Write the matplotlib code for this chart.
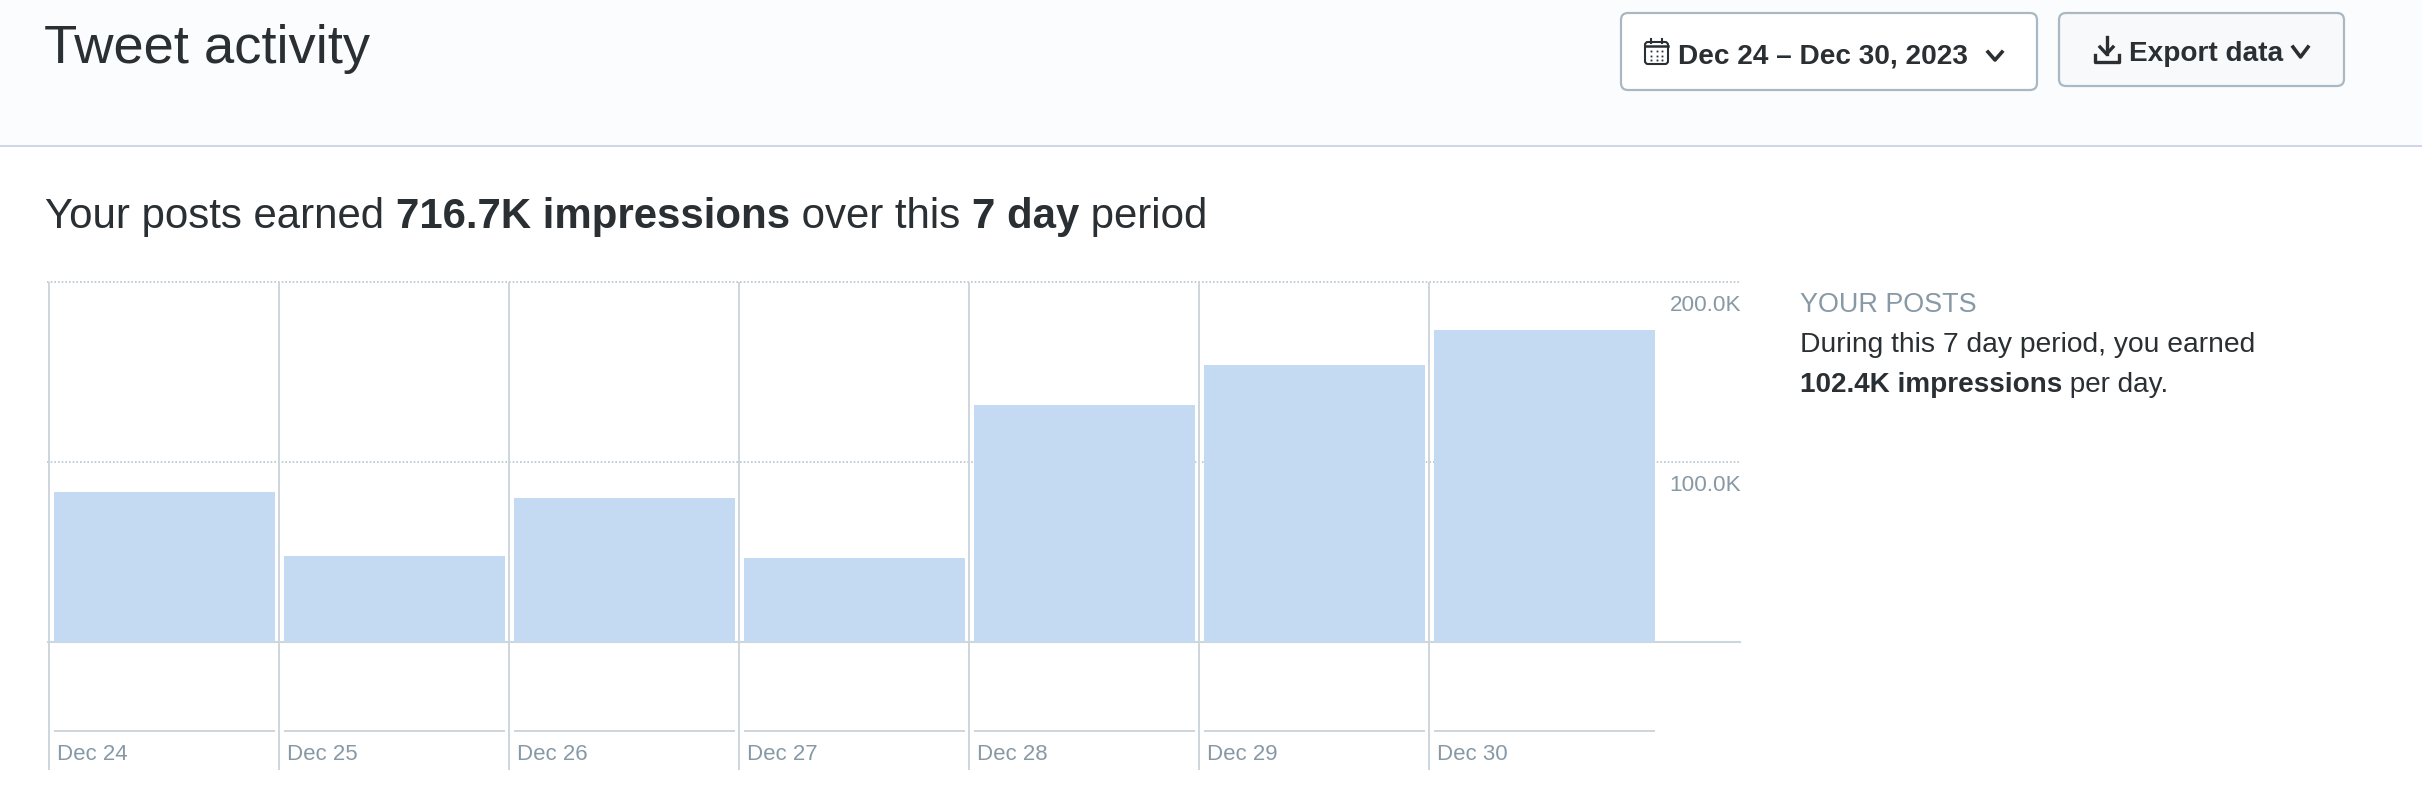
import matplotlib
matplotlib.use("Agg")
from matplotlib import pyplot as plt
from matplotlib.patches import FancyBboxPatch, Rectangle

days = ["Dec 24", "Dec 25", "Dec 26", "Dec 27", "Dec 28", "Dec 29", "Dec 30"]
impressions = [83.4, 47.9, 79.8, 46.6, 131.7, 154.2, 173.6]
tick_values = [100, 200]
tick_labels = ["100.0K", "200.0K"]

INK = "#292f33"
GREY = "#8899a6"
LINE = "#ccd6dd"
BAR = "#c3daf2"

plt.rcParams["font.family"] = ["Liberation Sans", "DejaVu Sans"]

W, H = 2422, 792
fig = plt.figure(figsize=(W / 100, H / 100), dpi=100, facecolor="white")

# overlay in pixel coords for the page furniture
page = fig.add_axes([0, 0, 1, 1], zorder=2)
page.set_xlim(0, W)
page.set_ylim(H, 0)
page.axis("off")
page.patch.set_alpha(0)


def runs(x, y, parts, size):
    # draws normal/bold pieces one after the other
    r = fig.canvas.get_renderer()
    for s, weight in parts:
        t = page.text(x, y, s, fontsize=size, fontweight=weight, color=INK, va="baseline")
        box = t.get_window_extent(r)
        # trailing spaces do count in the extent
        x += box.width


page.add_patch(Rectangle((0, 0), W, 146, fc="#fbfcfe", ec="none", zorder=0))
page.plot([0, W], [146, 146], color="#ccd3e6", lw=1.3, zorder=1)

page.text(44, 63.5, "Tweet activity", fontsize=39.2, color=INK, va="baseline")
runs(45, 228, [("Your posts earned ", "normal"), ("716.7K impressions", "bold"),
               (" over this ", "normal"), ("7 day", "bold"), (" period", "normal")], 30.25)

# buttons
page.add_patch(FancyBboxPatch((1625, 17), 408, 69, boxstyle="round,pad=4,rounding_size=7",
                              fc="white", ec="#aab8c2", lw=1.6))
page.add_patch(FancyBboxPatch((2063, 17), 277, 65, boxstyle="round,pad=4,rounding_size=7",
                              fc="#f8f9fb", ec="#aab8c2", lw=1.6))
page.text(1678, 63, "Dec 24 \u2013 Dec 30, 2023", fontsize=20.2, fontweight="bold", color=INK, va="baseline")
page.text(2129, 61, "Export data", fontsize=20.2, fontweight="bold", color=INK, va="baseline")

# chevrons
page.plot([1988, 1995, 2002], [52, 60, 52], color=INK, lw=2.6)
page.plot([2293, 2300.5, 2308], [47, 57, 47], color=INK, lw=2.6)

# calendar icon
page.add_patch(FancyBboxPatch((1645, 42), 23, 22, boxstyle="round,pad=0,rounding_size=3",
                              fc="none", ec=INK, lw=1.5))
page.plot([1645, 1668], [45.5, 45.5], color=INK, lw=1.8)
page.plot([1651, 1651], [39, 43], color=INK, lw=1.5)
page.plot([1662, 1662], [39, 43], color=INK, lw=1.5)
for cx in (1651, 1656.5, 1662):
    for cy in (51, 55.5, 60):
        page.plot(cx, cy, "s", color=INK, ms=1.3, mew=0)

# download icon
page.plot([2106.5, 2106.5], [37, 54], color=INK, lw=2.4)
page.plot([2100, 2106.5, 2113], [47, 54, 47], color=INK, lw=2.4)
page.plot([2094.5, 2094.5, 2118.5, 2118.5], [55, 62, 62, 55], color=INK, lw=2.4)

# right hand note
page.text(1800, 312, "YOUR POSTS", fontsize=19.4, color=GREY, va="baseline")
page.text(1800, 352, "During this 7 day period, you earned", fontsize=20.35, color=INK, va="baseline")
runs(1800, 392, [("102.4K impressions", "bold"), (" per day.", "normal")], 20.05)

# chart: one x unit is one day column, y in thousands
LEFT, RIGHT, TOP, BOTTOM = 47, 1741, 282.3, 770
ZERO = 641.7
PX_PER_K = (ZERO - TOP) / 200
DAY_PX = 230
X0 = 49

ax = fig.add_axes([LEFT / W, 1 - BOTTOM / H, (RIGHT - LEFT) / W, (BOTTOM - TOP) / H], zorder=1)
ax.set_xlim((LEFT - X0) / DAY_PX, (RIGHT - X0) / DAY_PX)
ax.set_ylim((ZERO - BOTTOM) / PX_PER_K, 200)
ax.axis("off")

xs = list(range(len(days)))
for v in tick_values:
    ax.axhline(v, color="#b8c6d0", lw=1.2, ls=(0, (1, 1.2)), zorder=1, clip_on=False)
ax.axhline(0, color=LINE, lw=1.5, zorder=1, solid_capstyle="butt")
for x in xs:
    ax.axvline(x, color=LINE, lw=1.4, zorder=2, solid_capstyle="butt")

ax.bar([x + 0.0217 for x in xs], impressions, width=0.961, align="edge", color=BAR, zorder=3)

axis_y = (ZERO - 730.7) / PX_PER_K
label_y = (ZERO - 760) / PX_PER_K
for x, d in zip(xs, days):
    ax.plot([x + 0.0217, x + 0.0217 + 0.961], [axis_y, axis_y], color=LINE, lw=1.4, zorder=2,
            solid_capstyle="butt")
    ax.text(x + 0.0217 + 3 / DAY_PX, label_y, d, fontsize=16, color=GREY, va="baseline")

for v, s in zip(tick_values, tick_labels):
    ax.text(1, v - 29 / PX_PER_K, s, transform=ax.get_yaxis_transform(), fontsize=16.2, color=GREY,
            ha="right", va="baseline")

fig.savefig("out.png", dpi=100, facecolor="white")
